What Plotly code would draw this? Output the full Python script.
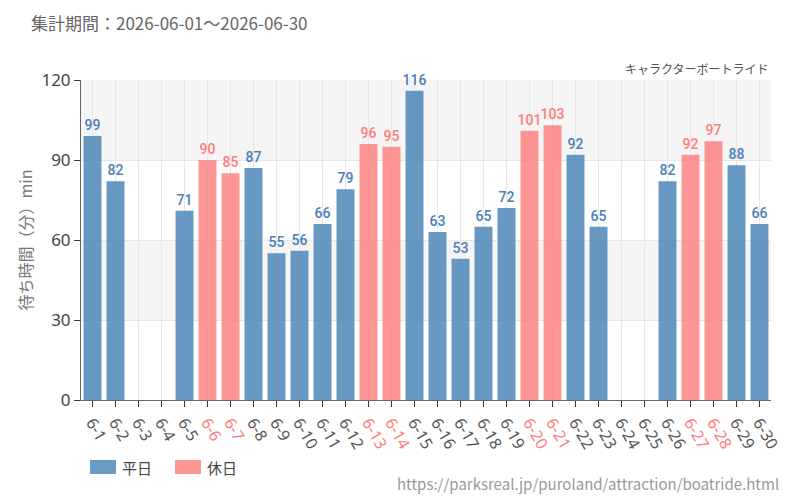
import plotly.graph_objects as go

days = [f"6-{d}" for d in range(1, 31)]
values = [99, 82, None, None, 71, 90, 85, 87, 55, 56, 66, 79, 96, 95, 116,
          63, 53, 65, 72, 101, 103, 92, 65, None, None, 82, 92, 97, 88, 66]
holidays = ["6-6", "6-7", "6-13", "6-14", "6-20", "6-21", "6-27", "6-28"]
y_ticks = [0, 30, 60, 90, 120]

BLUE = "rgba(70,130,180,0.82)"
PINK = "rgba(255,120,120,0.78)"
BLUE_T = "#4a80b8"
PINK_T = "#ff7c7c"
LABEL_FONT = "Roboto"

wd_vals = [v if d not in holidays else None for d, v in zip(days, values)]
hd_vals = [v if d in holidays else None for d, v in zip(days, values)]

fig = go.Figure()
fig.add_trace(go.Bar(
    x=days, y=wd_vals, name="平日", marker=dict(color=BLUE, line=dict(width=0)),
    text=[str(v) if v is not None else "" for v in wd_vals], textposition="outside",
    textfont=dict(color=BLUE_T, size=14, family=LABEL_FONT, weight=500),
    constraintext="none", cliponaxis=False, showlegend=False))
fig.add_trace(go.Bar(
    x=days, y=hd_vals, name="休日", marker=dict(color=PINK, line=dict(width=0)),
    text=[str(v) if v is not None else "" for v in hd_vals], textposition="outside",
    textfont=dict(color=PINK_T, size=14, family=LABEL_FONT, weight=500),
    constraintext="none", cliponaxis=False, showlegend=False))

# alternating bands
for y0, y1 in [(30, 60), (90, 120)]:
    fig.add_shape(type="rect", xref="paper", yref="y", x0=0, x1=1, y0=y0, y1=y1,
                  fillcolor="#f5f5f5", line=dict(width=0), layer="below")

ticktext = [f"<span style='color:{PINK_T}'>{d}</span>" if d in holidays else d for d in days]

fig.update_layout(
    width=800, height=500,
    margin=dict(l=81, r=29, t=80, b=100),
    paper_bgcolor="white", plot_bgcolor="rgba(0,0,0,0)",
    barmode="overlay", bargap=0.22,
    font=dict(family="Noto Sans CJK JP, Noto Sans", color="#555"),
    showlegend=False,
    uniformtext=dict(mode=False),
    xaxis=dict(type="category", tickmode="array", tickvals=days, ticktext=ticktext,
               tickangle=60, tickfont=dict(size=16, color="#555", family="Noto Sans, DejaVu Sans"),
               showgrid=True, gridcolor="#e6e6e6", gridwidth=1,
               ticks="outside", ticklen=6, tickcolor="#333",
               showline=True, linecolor="#666", linewidth=1,
               range=[-0.5, 29.5]),
    yaxis=dict(range=[0, 120], tickvals=y_ticks, tickfont=dict(size=17, color="#444", family="Noto Sans, Open Sans"),
               showgrid=True, gridcolor="#e6e6e6", zeroline=False,
               ticks="outside", ticklen=6, tickcolor="#333",
               showline=True, linecolor="#666", linewidth=1,
               title=dict(text="待ち時間（分）min", font=dict(size=16, color="#777"), standoff=4)),
)

def px_x(x):
    return (x - 81) / 690

def px_y(y):
    return (400 - y) / 320

fig.add_annotation(text="集計期間：2026-06-01～2026-06-30", xref="paper", yref="paper",
                   x=px_x(29), y=px_y(22), xanchor="left", yanchor="middle",
                   showarrow=False, font=dict(size=17, color="#666"))
fig.add_annotation(text="キャラクターボートライド", xref="paper", yref="paper",
                   x=1, y=px_y(69), xanchor="right", yanchor="middle",
                   showarrow=False, font=dict(size=12, color="#555"))
fig.add_annotation(text="https://parksreal.jp/puroland/attraction/boatride.html",
                   xref="paper", yref="paper", x=px_x(781), y=px_y(483),
                   xanchor="right", yanchor="middle", showarrow=False,
                   font=dict(size=15, color="#999"))

# legend (manual)
legend_items = [("平日", "rgba(70,130,180,0.8)", 90), ("休日", "rgba(255,120,120,0.78)", 175)]
for label, col, lx in legend_items:
    fig.add_shape(type="rect", xref="paper", yref="paper",
                  x0=px_x(lx), x1=px_x(lx + 26), y0=px_y(474), y1=px_y(460),
                  fillcolor=col, line=dict(width=0))
    fig.add_annotation(text=label, xref="paper", yref="paper", x=px_x(lx + 30), y=px_y(467),
                       xanchor="left", yanchor="middle", showarrow=False,
                       font=dict(size=15, color="#444"))

fig.write_html("out.html")
